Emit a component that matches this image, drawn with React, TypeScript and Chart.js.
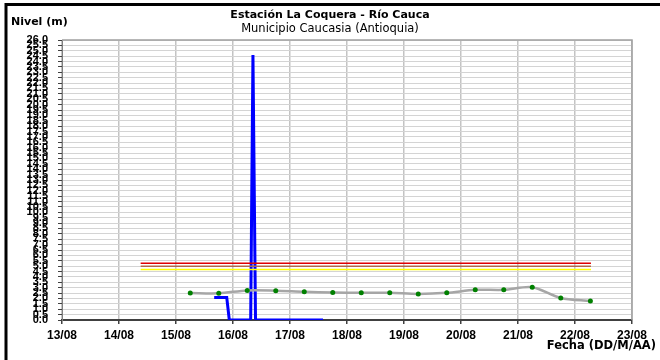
import React, { useEffect, useRef } from "react";
import { Chart, registerables } from "chart.js";

Chart.register(...registerables);

// x values are days counted from 13/08 00:00
const dayLabels = ["13/08", "14/08", "15/08", "16/08", "17/08", "18/08", "19/08", "20/08", "21/08", "22/08", "23/08"];

const grayTimes = [2.25, 2.75, 3.25, 3.75, 4.25, 4.75, 5.25, 5.75, 6.25, 6.75, 7.25, 7.75, 8.25, 8.75, 9.27];
const grayLevels = [2.5, 2.48, 2.75, 2.72, 2.62, 2.56, 2.52, 2.52, 2.42, 2.52, 2.8, 2.8, 3.05, 2.05, 1.76];

const blueTimes = [2.67, 2.89, 2.935, 3.31, 3.35, 3.395, 4.58];
const blueLevels = [2.1, 2.1, 0, 0, 24.6, 0, 0];

const thresholdStart = 1.38;
const thresholdEnd = 9.28;
const redLevel = 5.27;
const brownLevel = 5.0;
const yellowLevel = 4.7;

const FONT = "'DejaVu Sans', 'Liberation Sans', sans-serif";
const TICKFONT = "'Liberation Sans', Arial, sans-serif";

const framePlugin = {
  id: "frame",
  beforeDraw(chart: any) {
    const ctx = chart.ctx;
    ctx.save();
    ctx.fillStyle = "#ffffff";
    ctx.fillRect(0, 0, chart.width, chart.height);
    ctx.strokeStyle = "#000000";
    ctx.lineWidth = 3;
    ctx.beginPath();
    ctx.moveTo(6, chart.height + 5);
    ctx.lineTo(6, 4.5);
    ctx.lineTo(chart.width + 5, 4.5);
    ctx.stroke();
    ctx.restore();
  },
  beforeDatasetsDraw(chart: any) {
    const ctx = chart.ctx;
    const a = chart.chartArea;
    ctx.save();
    ctx.strokeStyle = "#a0a0a0";
    ctx.lineWidth = 1.5;
    ctx.beginPath();
    ctx.moveTo(a.left, a.top);
    ctx.lineTo(a.right, a.top);
    ctx.lineTo(a.right, a.bottom);
    ctx.stroke();
    ctx.restore();
  },
  afterDraw(chart: any) {
    const ctx = chart.ctx;
    ctx.save();
    ctx.fillStyle = "#000000";
    ctx.textBaseline = "middle";
    ctx.textAlign = "center";
    ctx.font = `bold 11px ${FONT}`;
    ctx.fillText("Estación La Coquera - Río Cauca", 330, 15);
    ctx.font = `11.5px ${FONT}`;
    ctx.fillText("Municipio Caucasia (Antioquia)", 330, 29);
    ctx.textAlign = "left";
    ctx.font = `bold 11px ${FONT}`;
    ctx.fillText("Nivel (m)", 11, 22);
    ctx.textAlign = "right";
    ctx.font = `bold 11.5px ${FONT}`;
    ctx.fillText("Fecha (DD/M/AA)", 656, 346);
    ctx.restore();
  },
};

export default function App() {
  const ref = useRef<HTMLCanvasElement | null>(null);

  useEffect(() => {
    document.body.style.margin = "0";
    if (!ref.current) return;
    const pts = (xs: number[], ys: number[]) => xs.map((x, i) => ({ x, y: ys[i] }));
    const flat = (v: number) => [
      { x: thresholdStart, y: v },
      { x: thresholdEnd, y: v },
    ];
    const chart = new Chart(ref.current, {
      type: "line",
      data: {
        datasets: [
          {
            label: "Rojo",
            data: flat(redLevel),
            borderColor: "#e00000",
            borderWidth: 1.5,
            pointRadius: 0,
            order: 1,
          },
          {
            label: "Naranja",
            data: flat(brownLevel),
            borderColor: "#b06a4a",
            borderWidth: 1.5,
            pointRadius: 0,
            order: 2,
          },
          {
            label: "Amarillo",
            data: flat(yellowLevel),
            borderColor: "#ffff00",
            borderWidth: 1.5,
            pointRadius: 0,
            order: 3,
          },
          {
            label: "Nivel",
            data: pts(grayTimes, grayLevels),
            borderColor: "#a6a6a6",
            borderWidth: 2.5,
            pointRadius: 2.5,
            pointBackgroundColor: "#008000",
            pointBorderColor: "#008000",
            pointBorderWidth: 0,
            tension: 0.3,
            order: 4,
          },
          {
            label: "Sensor",
            data: pts(blueTimes, blueLevels),
            borderColor: "#0000ff",
            borderWidth: 3,
            pointRadius: 0,
            tension: 0,
            order: 5,
          },
        ] as any,
      },
      options: {
        animation: false,
        responsive: false,
        events: [],
        layout: { padding: { left: 0, top: 40, right: 28, bottom: 0 } },
        plugins: { legend: { display: false }, title: { display: false }, tooltip: { enabled: false } },
        scales: {
          x: {
            type: "linear",
            min: 0,
            max: 10,
            afterFit: (s: any) => {
              s.height = 40;
            },
            ticks: {
              stepSize: 1,
              autoSkip: false,
              maxRotation: 0,
              padding: 4,
              color: "#000000",
              font: { family: TICKFONT, size: 12, weight: "bold" },
              callback: (v: any) => dayLabels[Math.round(Number(v))] ?? "",
            },
            grid: { color: "#c4c4c4", lineWidth: 1.5, tickLength: 4, tickColor: "#404040" },
            border: { color: "#404040", width: 2 },
          },
          y: {
            type: "linear",
            min: 0,
            max: 26,
            afterFit: (s: any) => {
              s.width = 62;
            },
            ticks: {
              stepSize: 0.5,
              autoSkip: false,
              padding: 10,
              color: "#000000",
              font: { family: TICKFONT, size: 11, weight: "bold" },
              callback: (v: any) => Number(v).toFixed(1),
            },
            grid: { color: "#d4d4d4", lineWidth: 1, tickLength: 4, tickColor: "#404040" },
            border: { color: "#808080", width: 1 },
          },
        },
      } as any,
      plugins: [framePlugin],
    });
    return () => chart.destroy();
  }, []);

  return <canvas ref={ref} width={660} height={360} style={{ display: "block" }} />;
}
